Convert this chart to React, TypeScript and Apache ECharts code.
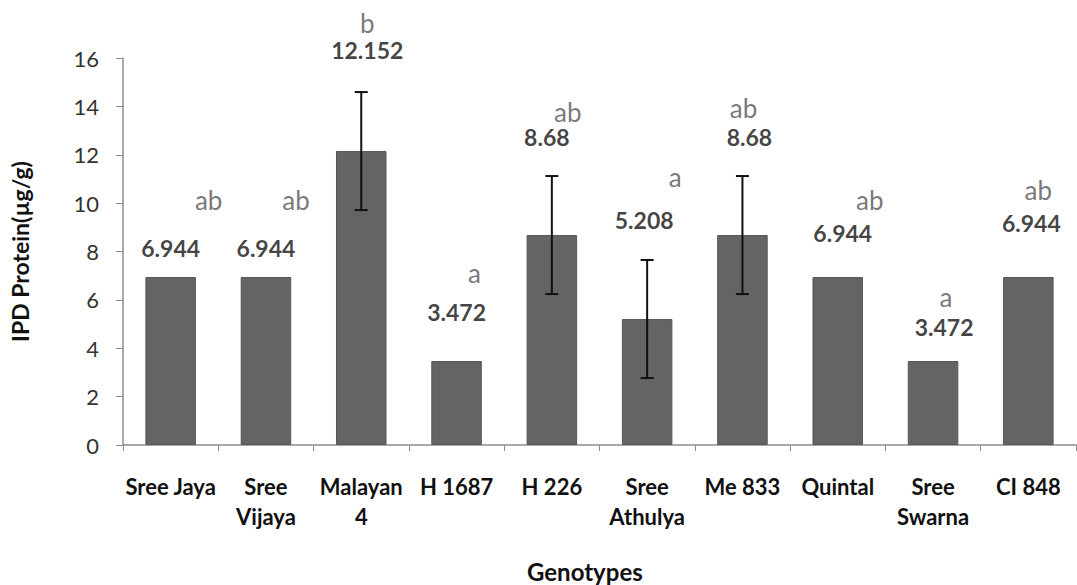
import React, { useEffect, useRef } from "react";
import * as echarts from "echarts";

const genotypes = ["Sree Jaya", "Sree\nVijaya", "Malayan\n4", "H 1687", "H 226", "Sree\nAthulya", "Me 833", "Quintal", "Sree\nSwarna", "CI 848"];
const protein = [6.944, 6.944, 12.152, 3.472, 8.68, 5.208, 8.68, 6.944, 3.472, 6.944];
const errorSize = [0, 0, 2.44, 0, 2.44, 2.44, 2.44, 0, 0, 0];
const groupLetters = ["ab", "ab", "b", "a", "ab", "a", "ab", "ab", "a", "ab"];
const yMin = 0;
const yMax = 16;
const yInterval = 2;

// label placement offsets (pixels, relative to bar top centre)
const valueLabelOffsets = [[0, -29], [0, -29], [6, -101], [0, -49], [-5, -98], [-3, -99], [7, -98], [5, -44], [11, -34], [3, -54]];
const letterOffsets = [[38, -77], [30, -77], [6, -128], [18, -88], [16, -123], [28, -142], [1, -127], [32, -77], [13, -64], [10, -87]];

const FONT = "Lato, 'Open Sans', sans-serif";

export default function App() {
  const ref = useRef<HTMLDivElement>(null);
  useEffect(() => {
    if (!ref.current) return;
    const chart = echarts.init(ref.current, undefined, { renderer: "svg" });
    chart.setOption({
      animation: false,
      backgroundColor: "#ffffff",
      grid: { left: 123, right: 1, top: 58, bottom: 140, containLabel: false },
      xAxis: {
        type: "category",
        data: genotypes,
        axisLine: { lineStyle: { color: "#8c8c8c", width: 1.5 } },
        axisTick: { show: true, alignWithLabel: false, length: 6, lineStyle: { color: "#8c8c8c" } },
        axisLabel: {
          interval: 0,
          color: "#111111",
          fontFamily: FONT,
          fontWeight: "bold",
          fontSize: 22,
          lineHeight: 30,
          margin: 26,
        },
      },
      yAxis: {
        type: "value",
        min: yMin,
        max: yMax,
        interval: yInterval,
        name: "IPD Protein(µg/g)",
        nameLocation: "middle",
        nameGap: 92,
        nameTextStyle: { color: "#111111", fontFamily: FONT, fontWeight: "bold", fontSize: 23 },
        axisLine: { show: true, lineStyle: { color: "#8c8c8c", width: 1.5 } },
        axisTick: { show: true, length: 7, lineStyle: { color: "#8c8c8c" } },
        splitLine: { show: false },
        axisLabel: { color: "#333333", fontFamily: FONT, fontSize: 22, margin: 24 },
      },
      graphic: [
        {
          type: "text",
          left: 527,
          top: 559,
          style: { text: "Genotypes", fill: "#111111", font: `bold 24px ${FONT}` },
        },
      ],
      series: [
        {
          type: "bar",
          data: protein,
          barWidth: "53%",
          itemStyle: { color: "#646464", borderColor: "#565656", borderWidth: 1 },
          z: 2,
        },
        {
          type: "custom",
          z: 5,
          data: protein.map((v, i) => [i, v, errorSize[i]]),
          renderItem: (params: any, api: any) => {
            const i = api.value(0);
            const v = api.value(1);
            const e = api.value(2);
            if (!e) return { type: "group", children: [] };
            const top = api.coord([i, v + e]);
            const bot = api.coord([i, v - e]);
            const cap = 6.5;
            const style = { stroke: "#111111", lineWidth: 2 };
            return {
              type: "group",
              children: [
                { type: "line", shape: { x1: top[0], y1: top[1], x2: bot[0], y2: bot[1] }, style },
                { type: "line", shape: { x1: top[0] - cap, y1: top[1], x2: top[0] + cap, y2: top[1] }, style },
                { type: "line", shape: { x1: bot[0] - cap, y1: bot[1], x2: bot[0] + cap, y2: bot[1] }, style },
              ],
            };
          },
        },
        {
          type: "scatter",
          symbolSize: 0,
          z: 6,
          data: protein.map((v, i) => ({
            value: [i, v],
            label: {
              show: true,
              position: "inside",
              offset: valueLabelOffsets[i],
              formatter: String(v),
              color: "#111111",
              fontFamily: FONT,
              fontWeight: "bold",
              fontSize: 23,
              lineHeight: 22,
            },
          })),
        },
        {
          type: "scatter",
          symbolSize: 0,
          z: 6,
          data: protein.map((v, i) => ({
            value: [i, v],
            label: {
              show: true,
              position: "inside",
              offset: letterOffsets[i],
              formatter: groupLetters[i],
              color: "#555555",
              fontFamily: FONT,
              fontSize: 26,
              lineHeight: 22,
            },
          })),
        },
      ],
    });
    return () => chart.dispose();
  }, []);
  return <div ref={ref} style={{ position: "absolute", left: 0, top: 0, width: 1077, height: 585 }} />;
}
